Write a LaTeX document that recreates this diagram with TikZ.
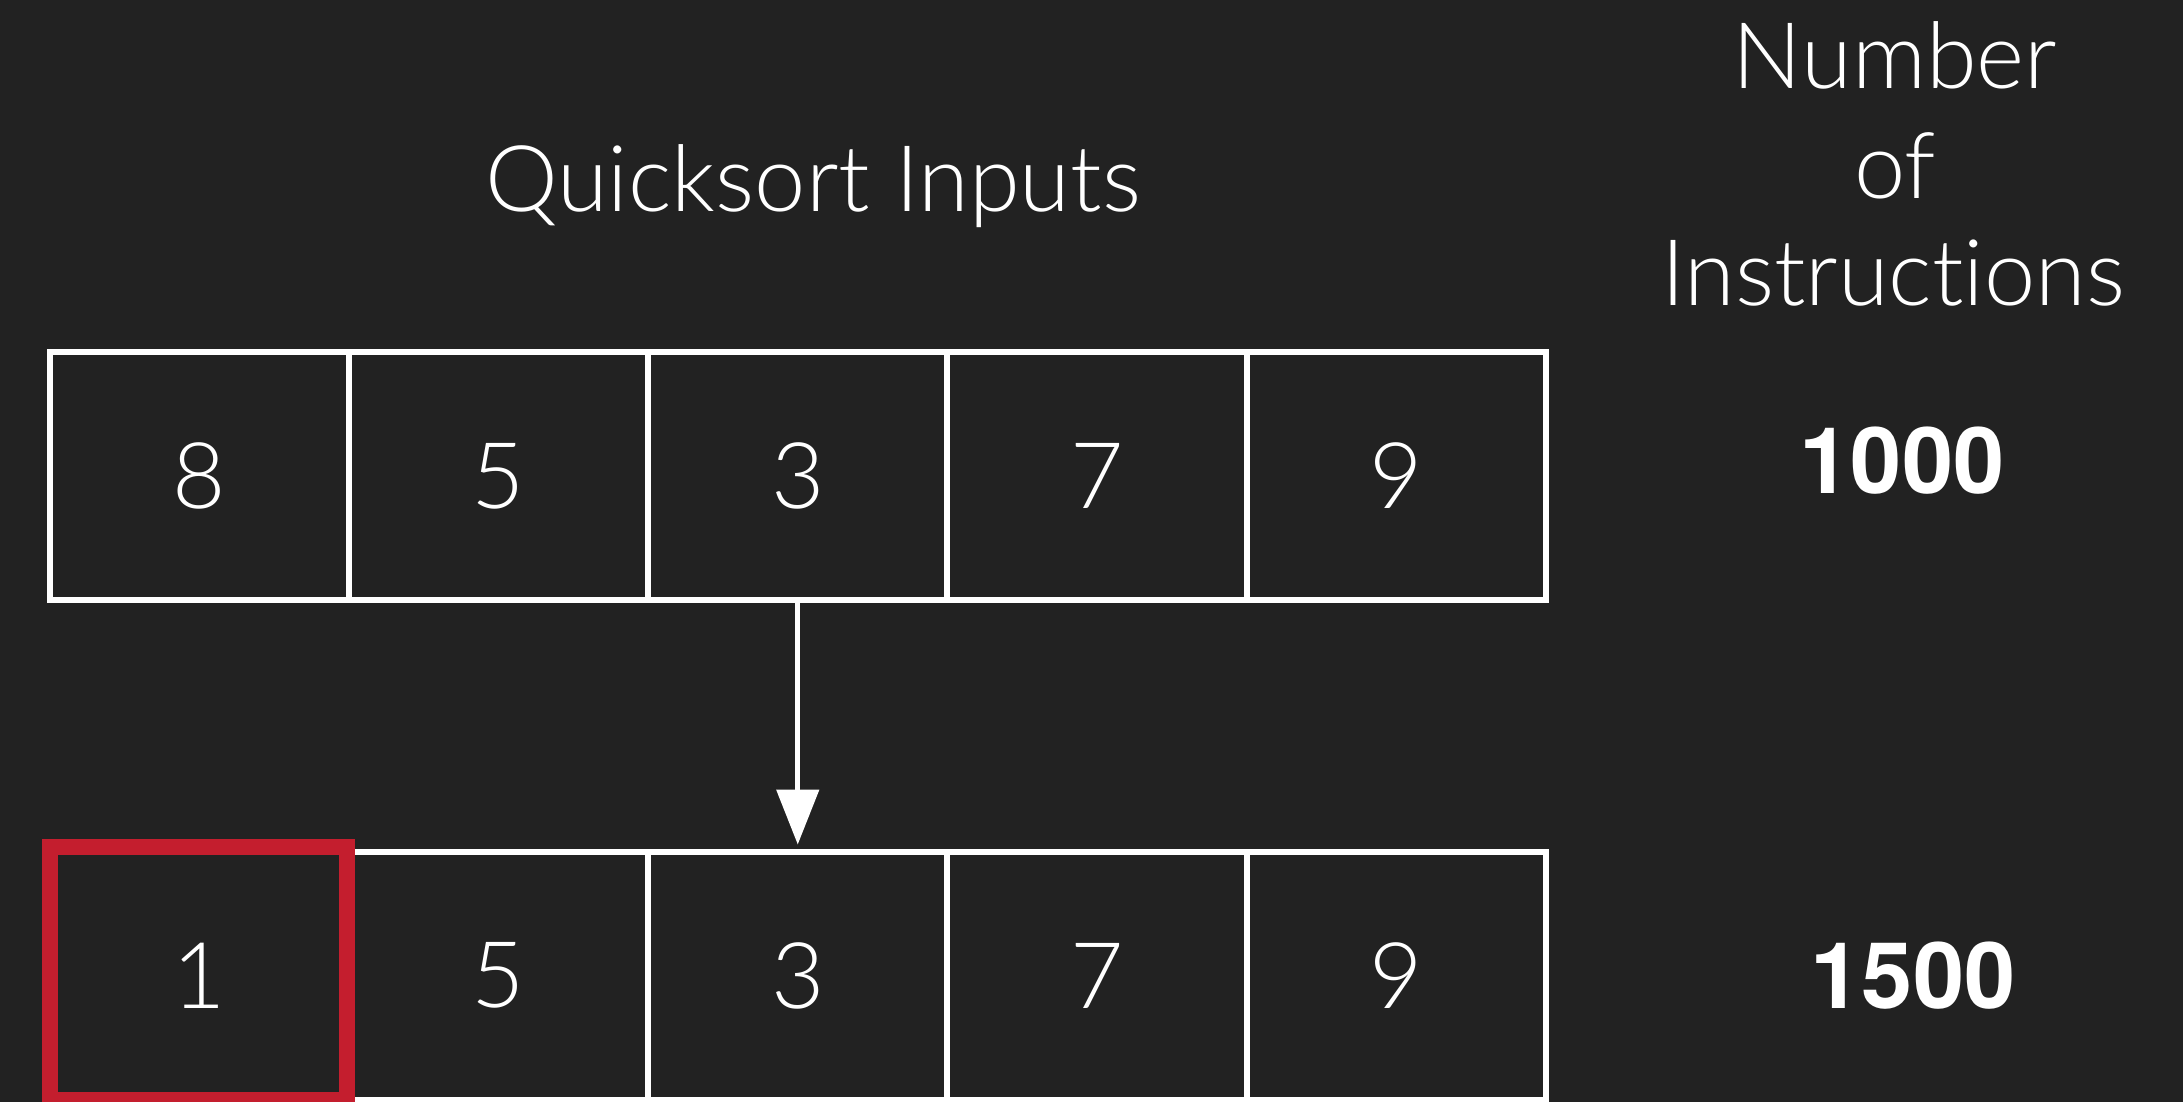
\documentclass[tikz,border=0pt]{standalone}
\usepackage{fontspec}
\setmainfont{Lato Light}[Ligatures={NoCommon,NoRare,NoDiscretionary}]
\newfontfamily\boldf{TeX Gyre Heros}[UprightFont=*-Bold]
\usetikzlibrary{arrows.meta}
\definecolor{bgc}{HTML}{222222}
\definecolor{redc}{HTML}{C41E2E}
\tikzset{
  cell/.style={draw=white, line width=3pt, minimum width=149.65pt, minimum height=124pt, inner sep=0pt, text=white, font=\fontsize{46}{54}\selectfont},
  lbl/.style={text=white, inner sep=0pt, font=\fontsize{46}{54}\selectfont},
  cnt/.style={text=white, inner sep=0pt, font=\boldf\fontsize{46}{54}\selectfont},
  hl/.style={draw=redc, line width=8pt, minimum width=148.25pt, minimum height=126.5pt, inner sep=0pt}
}
\begin{document}
\begin{tikzpicture}[x=0.5pt, y=-0.5pt]
\fill[bgc] (0,0) rectangle (2183,1102);
\useasboundingbox (0,0) rectangle (2183,1102);
% top row
\node[cell] (a1) at (199.15,476) {8};
\node[cell] (a2) at (498.45,476) {5};
\node[cell] (a3) at (797.75,476) {3};
\node[cell] (a4) at (1097.05,476) {7};
\node[cell] (a5) at (1396.35,476) {9};
% bottom row
\node[cell] (b1) at (199.15,975.5) {1};
\node[cell] (b2) at (498.45,975.5) {5};
\node[cell] (b3) at (797.75,975.5) {3};
\node[cell] (b4) at (1097.05,975.5) {7};
\node[cell] (b5) at (1396.35,975.5) {9};
% highlight
\node[hl] (red) at (198.25,973) {};
% arrow
\draw[white, line width=2.5pt, -{Triangle[length=27.5pt,width=21pt]}, shorten >=2pt] (a3.south) -- (b3.north);
% labels
\node[lbl, anchor=base] (title) at (813,211) {Quicksort Inputs};
\node[lbl, anchor=base] (h1) at (1895,89) {Number};
\node[lbl, anchor=base] (h2) at (1895,198) {of};
\node[lbl, anchor=base] (h3) at (1893,305) {Instructions};
\node[cnt] (c1) at (1902,461) {1000};
\node[cnt] (c2) at (1913,976) {1500};
\end{tikzpicture}
\end{document}
